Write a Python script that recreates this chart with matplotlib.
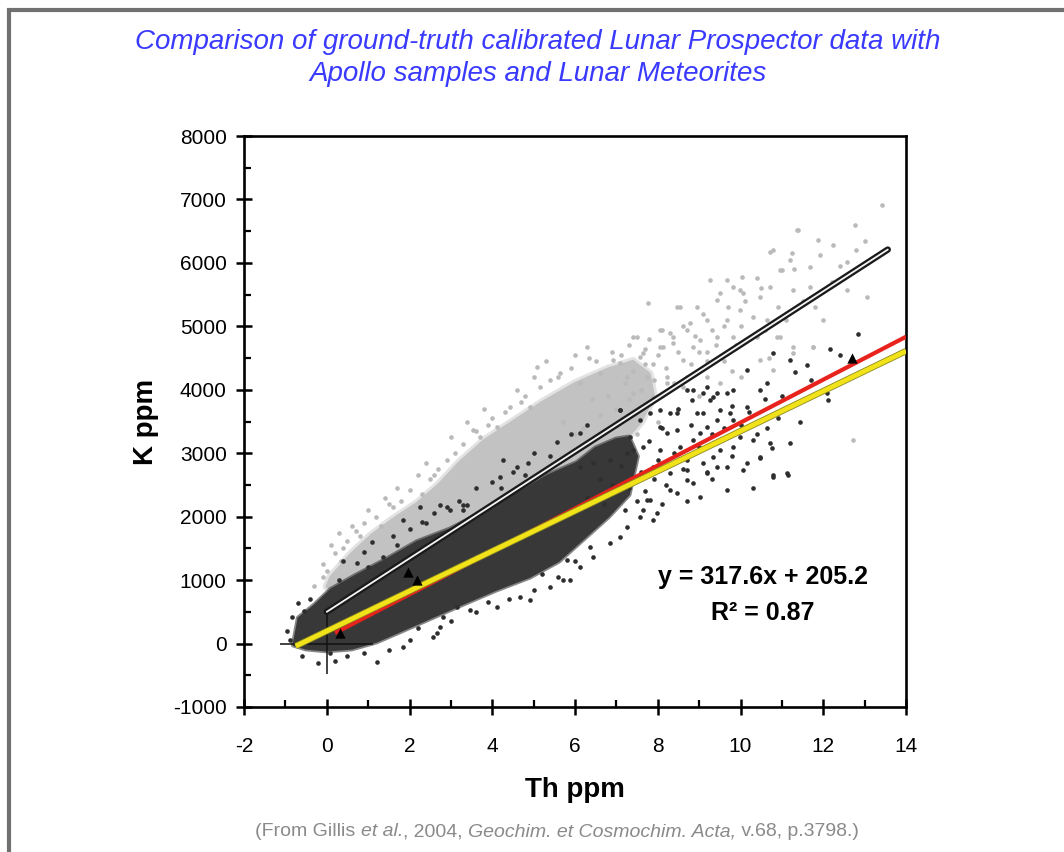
import matplotlib
matplotlib.use("Agg")
import matplotlib.pyplot as plt
from matplotlib.patches import Rectangle
from matplotlib.ticker import MultipleLocator

plt.rcParams['font.family'] = ['Liberation Sans', 'DejaVu Sans']
plt.rcParams['axes.unicode_minus'] = False

# ---------------- data ----------------
# dense core of the light-grey cloud (outline, Th ppm / K ppm)
grey_core_x = [0.0, 0.1, 0.6, 1.1, 1.6, 2.2, 2.7, 3.2, 3.8, 4.5, 5.2, 6.0, 6.8, 7.4,
               7.8, 7.9, 7.6, 7.0, 6.0, 5.0, 4.0, 3.0, 2.0, 1.0, 0.3]
grey_core_y = [900, 1050, 1420, 1720, 1960, 2220, 2500, 2850, 3200, 3500, 3800, 4100, 4330, 4450,
               4250, 3900, 3500, 3050, 2600, 2100, 1700, 1300, 1000, 800, 800]

# scattered light-grey points
grey_x = [-0.1, 0.2, 0.35, 0.5, 0.8, 0.9, 1.2, 1.3, 1.6, 1.8, 2.0, 2.3, 2.5, 2.7, 2.9, 3.1,
          3.3, 3.53, 3.7, 3.9, 4.11, 4.3, 4.43, 4.7, 4.91, 5.08, 5.15, 5.4, 5.64, 5.9, 6.12,
          6.35, 6.6, 6.9, 7.09, 7.3, 7.57, 7.8, 8.1, 6.29, 6.92, 7.26, 7.4, 7.5, 7.65, 7.74,
          7.76, 7.89, 8.05, 8.05, 8.13, 8.22, 8.37, 8.37, 8.47, 8.54, 8.62, 8.62, 8.71, 8.78,
          8.86, 8.95, 9.02, 9.19, 9.19, 9.27, 9.43, 9.43, 9.5, 9.67, 9.67, 9.83, 9.83, 9.99,
          9.99, 10.04, 10.07, 10.4, 10.4, 10.47, 10.47, 10.64, 10.71, 10.71, 10.79, 10.79,
          10.88, 10.95, 10.95, 11.0, 11.2, 11.24, 11.27, 11.28, 11.28, 11.37, 11.4, 11.68,
          11.68, 11.75, 11.75, 11.87, 11.92, 12.0, 12.24, 12.57, 12.57, 12.72, 12.77, 13.0,
          13.06, 13.41, 7.5, 8.0, 8.5, 9.0, 6.8, 9.5, 10.0, 7.4, 7.89, 9.19, 8.22,
          7.2, 7.4, 7.6, 7.7, 7.9, 8.0, 8.2, 8.3, 8.4, 8.5, 8.6, 8.8, 8.9, 9.0, 9.1, 9.2, 9.3,
          9.4, 9.6, 9.6, 9.7, 9.9, 10.0, 10.1, 10.2, 10.3, 10.5, 10.6, 10.9, 11.1, 11.3, 11.5,
          11.8, 12.2, 12.4, 12.8, 7.0, 7.3, 6.6, 6.4, 6.8, 8.7, 9.8, 10.7, 6.0, 5.7, 6.2,
          -0.3, -0.1, 0.1, 0.3, 0.6, 1.0, 1.4, 1.7, 2.2, 2.4, 3.0, 3.4, 3.8, 4.6, 5.0, 5.3, 6.0,
          0.0, 0.4, 0.7, 1.5, 2.6, 3.6, 4.0, 4.8, 5.6, 6.5, 7.1, 7.7]
grey_y = [1250, 1420, 1300, 1620, 1700, 1900, 2000, 1850, 2150, 2250, 2420, 2350, 2600, 2750,
          2895, 3000, 3150, 3368, 3250, 3450, 3416, 3650, 3731, 3800, 3731, 4362, 4047, 4150,
          4267, 4350, 4110, 4500, 4267, 4600, 4425, 4700, 4520, 4800, 4950, 4677, 4472, 4205,
          4835, 4835, 4583, 4205, 5370, 3889, 4945, 4677, 4677, 4205, 4740, 4835, 5308, 5308,
          4472, 4047, 4945, 5056, 4677, 5308, 4788, 5103, 4205, 5733, 4835, 5419, 5530, 5103,
          5733, 5623, 4835, 5261, 5576, 5780, 5530, 4835, 5765, 5464, 4472, 5103, 6175, 5623,
          4315, 6207, 4835, 5891, 4835, 5891, 6050, 6160, 4583, 5576, 4677, 6522, 6522, 5623,
          5939, 4677, 4677, 6365, 6128, 5103, 6285, 6018, 5576, 3210, 6600, 6338, 5464, 6917,
          3300, 3500, 3700, 3900, 3000, 4100, 4200, 3952, 4400, 4600, 4100,
          4100, 4300, 4000, 4400, 4150, 4550, 4350, 4900, 4100, 4600, 5000, 4400, 4850, 4600,
          5200, 4450, 4950, 4700, 5000, 4450, 5300, 4700, 5000, 5400, 4800, 5150, 5600, 4950,
          5300, 5100, 5900, 5400, 5300, 5700, 5950, 6200, 3700, 3850, 3600, 3850, 3900, 4200,
          4300, 4500, 3300, 3500, 3400,
          900, 1050, 1550, 1750, 1850, 2100, 2300, 2450, 2650, 2850, 3250, 3500, 3700, 4000,
          4200, 4450, 4550,
          1150, 1500, 1780, 2200, 2650, 3350, 3550, 3900, 4200, 4450, 4550, 4650]

# dense core of the dark cloud (outline)
dark_core_x = [-0.8, -0.68, -0.3, 0.1, 0.73, 1.46, 2.18, 2.98, 3.78, 4.5, 5.32, 6.05,
               6.5, 7.0, 7.3, 7.5, 7.3, 6.8, 6.2, 5.6, 4.9, 4.1, 3.2, 2.5, 1.8, 1.2, 0.6,
               0.0, -0.5]
dark_core_y = [-20, 400, 600, 850, 1080, 1330, 1600, 1800, 2070, 2330, 2640, 2850,
               3080, 3220, 3250, 2950, 2350, 2000, 1650, 1300, 1050, 850, 600, 400, 200, 30,
               -80, -110, -80]

# scattered dark points
dark_x = [-0.69, -0.84, 2.74, 2.57, 1.21, 0.08, 1.84, 2.25, 2.74, 3.39, 2.98, 2.3, 1.84,
          0.73, 1.36, 4.27, 4.6, 4.86, 5.56, 6.12, 7.09, 4.19, 3.29, 2.9, 7.57, 7.09, 7.74,
          7.09, 7.33, 7.57, 7.81, 8.05, 8.22, 8.46, 8.7, 8.82, 8.94, 9.1, 9.18, 9.34, 9.5,
          9.67, 9.75, 8.86, 8.54, 8.05, 7.65, 7.26, 6.85, 6.44, 6.12, 7.89, 8.3, 8.71, 9.02,
          9.19, 9.43, 5.88, 6.12, 6.44, 6.85, 5.8, 6.36, 7.26, 7.81, 8.3, 8.86, 4.91, 4.67,
          4.11, 2.66, 2.81, 5.71, 5.4, 3.46, 3.15, 7.89,
          12.85, 12.16, 11.32, 11.6, 12.08, 12.12, 11.44, 10.79, 11.2, 10.63, 10.47, 10.15,
          9.83, 9.43, 9.27, 8.86, 8.46, 8.3, 8.05, 9.1, 9.83, 10.16, 9.34, 9.99, 10.3, 10.64,
          10.76, 10.47, 9.83, 9.34, 9.43, 9.67, 10.16, 10.79, 11.12, 9.19, 8.71, 11.2, 11.15,
          10.79, 10.07, 9.67, 9.19, 10.47, 10.71, 9.02, 8.71, 8.47, 7.98, 7.65,
          6.3, 6.6, 6.7, 6.9, 7.1, 7.3, 7.4, 7.6, 7.7, 7.8, 7.9, 8.0, 8.1, 8.2, 8.4, 8.5, 8.6,
          8.8, 9.0, 9.1, 9.3, 9.5, 9.6, 9.8, 10.0, 10.2, 10.4, 10.6, 10.9, 11.0, 11.4, 11.7,
          12.4, 7.2, 7.5, 8.1, 8.7, 9.3, 9.8, 10.3,
          -0.4, -0.95, -0.6, -0.2, 0.2, 0.5, 0.9, 1.5, 2.0, 2.2, 3.0, 3.6, 3.9, 4.4, 5.0, 5.2,
          5.6, 6.0, 0.4, 0.9, 1.1, 1.6, 2.0, 2.6, 3.2, 3.6, 4.0, 4.5, 5.0, 5.9, 6.3,
          -0.9, -0.55, 0.3, 1.0, 1.7, 2.4, 3.3, 4.2, 4.8, 5.4, 6.6, 7.0]
dark_y = [640, 420, 262, 104, -290, -148, -54, 2154, 2186, 2186, 2107, 1918, 1950,
          1271, 1366, 2895, 2785, 2848, 3179, 3320, 3684, 2627, 2186, 2154, 2000, 1680, 2265,
          3684, 3263, 3526, 3636, 3684, 3321, 3368, 4000, 3841, 3636, 3952, 4051, 3889, 3684,
          3952, 3636, 3210, 3100, 3053, 3100, 3006, 2895, 2848, 2785, 2785, 2690, 2895, 3321,
          3416, 3526, 1003, 1208, 1366, 1586, 1318, 1523, 1839, 2265, 2422, 2533, 687, 735,
          577, 167, 420, 1003, 892, 530, 577, 1950,
          4882, 4641, 4288, 4393, 3947, 3841, 3500, 4583, 4472, 4105, 4000, 4315,
          4000, 3947, 3841, 4000, 3630, 3636, 3416, 3636, 3526, 3731, 3163, 3258, 3210, 3400,
          3085, 2942, 3100, 2942, 2785, 2785, 2848, 2659, 2690, 2690, 2738, 3163, 2659,
          2627, 2738, 2422, 2706, 2927, 3163, 2312, 2580, 2375, 2060, 2107,
          2300, 2600, 2200, 2500, 2800, 2450, 3050, 2700, 2400, 3200, 2600, 2900, 3400, 2500,
          3000, 3700, 2750, 3450, 3100, 2850, 3300, 3050, 3400, 3750, 3450, 3650, 3300, 3850,
          3550, 3900, 3800, 4150, 4550, 2100, 2250, 2200, 2250, 2600, 2950, 2450,
          700, 200, -200, -300, -280, -200, -150, -100, 50, 250, 350, 500, 650, 700, 850, 1100,
          1050, 1300, 1300, 1450, 1600, 1700, 1800, 2050, 2250, 2450, 2550, 2700, 3000, 3300,
          3450,
          50, 520, 1000, 1200, 1550, 1900, 2100, 2450, 2650, 2950, 3300, 3450]

# fitted / reference lines (end points)
black_line_x = [0.0, 13.56]
black_line_y = [500, 6210]
red_line_x = [0.2, 14.0]
red_line_y = [167, 4836]
yellow_line_x = [-0.75, 14.0]
yellow_line_y = [-40, 4610]

# sample points (triangles) and error bar
tri_x = [0.32, 1.96, 2.18, 12.69]
tri_y = [167, 1130, 1003, 4505]
err_x, err_y = 0.0, 0.0
err_xerr, err_yerr = 1.12, 480

x_ticks = [-2, 0, 2, 4, 6, 8, 10, 12, 14]
y_ticks = [-1000, 0, 1000, 2000, 3000, 4000, 5000, 6000, 7000, 8000]

title_lines = ["Comparison of ground-truth calibrated Lunar Prospector data with",
               "Apollo samples and Lunar Meteorites"]
eq_text = "y = 317.6x + 205.2"
r2_text = "R\u00b2 = 0.87"
source_pieces = [("(From Gillis ", 'normal'), ("et al.", 'italic'), (", 2004, ", 'normal'),
                 ("Geochim. et Cosmochim. Acta,", 'italic'), (" v.68, p.3798.)", 'normal')]

# ---------------- figure ----------------
W, H = 1064, 852
fig = plt.figure(figsize=(W / 100, H / 100), dpi=100)
fig.patch.set_facecolor('white')

# grey frame of the original slide (top and left edges)
fig.add_artist(Rectangle((9 / W, -0.5), 2.0, 0.5 + 1 - 10 / H, transform=fig.transFigure,
                         fill=False, edgecolor='#707070', linewidth=3.0))

ax = fig.add_axes([244 / W, (H - 707) / H, (906 - 244) / W, (707 - 136) / H])
ax.set_xlim(-2, 14)
ax.set_ylim(-1000, 8000)

GREY = '#c2c2c2'
DARK = '#383838'
# clouds: dense cores with soft edges, then scattered points
ax.fill(grey_core_x, grey_core_y, facecolor=GREY, edgecolor=GREY, lw=6, alpha=0.45,
        joinstyle='round', zorder=1)
ax.fill(grey_core_x, grey_core_y, facecolor=GREY, edgecolor=GREY, lw=2, joinstyle='round',
        zorder=1.1)
ax.scatter(grey_x, grey_y, s=11, color='#bababa', linewidths=0, zorder=1.5)
ax.fill(dark_core_x, dark_core_y, facecolor=DARK, edgecolor=DARK, lw=4, alpha=0.6,
        joinstyle='round', zorder=2)
ax.fill(dark_core_x, dark_core_y, facecolor=DARK, edgecolor=DARK, lw=1.5, joinstyle='round',
        zorder=2.1)
ax.scatter(dark_x, dark_y, s=11, color='#2e2e2e', linewidths=0, zorder=2.5)

# error bar
ax.errorbar([err_x], [err_y], xerr=[err_xerr], yerr=[err_yerr], fmt='none',
            ecolor='#111111', elinewidth=1.1, capsize=0, zorder=3)

# lines
ax.plot(red_line_x, red_line_y, color='#e8221c', lw=3.0, solid_capstyle='butt', zorder=4)
ax.plot(yellow_line_x, yellow_line_y, color='#8a8a20', lw=4.6, solid_capstyle='butt', zorder=4.1)
ax.plot(yellow_line_x, yellow_line_y, color='#f2e21a', lw=3.4, solid_capstyle='butt', zorder=4.2)
ax.plot(black_line_x, black_line_y, color='#1a1a1a', lw=4.6, solid_capstyle='round', zorder=5)
ax.plot(black_line_x, black_line_y, color='#f4f4f4', lw=1.3, solid_capstyle='round', zorder=5.1)

ax.scatter(tri_x, tri_y, marker='^', s=55, color='black', linewidths=0, zorder=6)

# axes styling
for side in ['left', 'bottom', 'right', 'top']:
    ax.spines[side].set_linewidth(1.9)
    ax.spines[side].set_color('black')
ax.set_xticks(x_ticks)
ax.set_yticks(y_ticks)
ax.xaxis.set_minor_locator(MultipleLocator(1))
ax.yaxis.set_minor_locator(MultipleLocator(500))
ax.tick_params(which='major', direction='inout', length=11, width=1.8, labelsize=15,
               top=False, right=False)
ax.tick_params(which='minor', direction='in', length=5, width=1.6, top=False, right=False)
ax.tick_params(axis='x', which='major', pad=16)
ax.tick_params(axis='y', which='major', pad=7)

ax.set_xlabel("Th ppm", fontsize=20, fontweight='bold', labelpad=15)
ax.set_ylabel("K ppm", fontsize=20, fontweight='bold', labelpad=10)

ax.text(0.784, 0.228, eq_text, transform=ax.transAxes, ha='center', va='center',
        fontsize=18, fontweight='bold', zorder=7)
ax.text(0.784, 0.165, r2_text, transform=ax.transAxes, ha='center', va='center',
        fontsize=18, fontweight='bold', zorder=7)

# title
fig.text(538 / W, 1 - 42 / H, title_lines[0], ha='center', va='center', fontsize=20,
         style='italic', color='#3a3aff')
fig.text(538 / W, 1 - 74 / H, title_lines[1], ha='center', va='center', fontsize=20,
         style='italic', color='#3a3aff')

# source line with mixed roman / italic pieces, centred
renderer = fig.canvas.get_renderer()
SRC_FS = 14
SRC_COLOR = '#8a8a8a'


def text_width(s, style):
    t1 = fig.text(0, 0, "x" + s + "x", fontsize=SRC_FS, style=style)
    t2 = fig.text(0, 0, "xx", fontsize=SRC_FS, style=style)
    w = t1.get_window_extent(renderer).width - t2.get_window_extent(renderer).width
    t1.remove()
    t2.remove()
    return w


widths = [text_width(s, st) for s, st in source_pieces]
x0 = 557 - sum(widths) / 2
for (s, st), w in zip(source_pieces, widths):
    fig.text(x0 / W, 1 - 832 / H, s, ha='left', va='center', fontsize=SRC_FS, style=st,
             color=SRC_COLOR)
    x0 += w

fig.savefig("out.png", dpi=100, facecolor='white')
